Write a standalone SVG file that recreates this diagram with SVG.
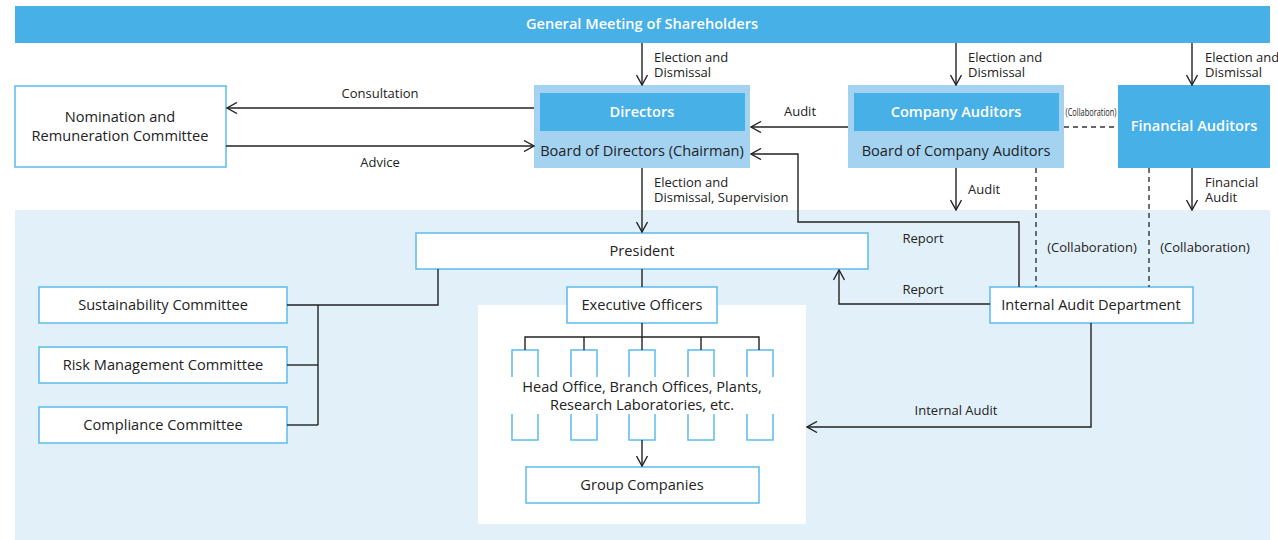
<svg xmlns="http://www.w3.org/2000/svg" width="1278" height="540" viewBox="0 0 1278 540">
  <defs>
    <marker id="arrow" viewBox="0 0 12 12" refX="11" refY="6" markerWidth="12" markerHeight="12" markerUnits="userSpaceOnUse" orient="auto">
      <path d="M1,0.5 L11,6 L1,11.5" fill="none" stroke="#222" stroke-width="1.4"/>
    </marker>
  </defs>
  <style>
    text { font-family: "Open Sans", "Noto Sans", "Liberation Sans", sans-serif; font-size: 14.6px; fill: #222; }
    .c { text-anchor: middle; }
    .w { fill: #fff; font-weight: 600; }
    .lbl { font-size: 13px; }
    .tiny { font-size: 10px; }
    .box { fill: #fff; stroke: #5bbbec; stroke-width: 1.5; }
    .dark { fill: #47b0e6; }
    .light { fill: #a4d3f1; }
    .ln { fill: none; stroke: #222; stroke-width: 1.4; }
    .arr { fill: none; stroke: #222; stroke-width: 1.4; marker-end: url(#arrow); }
    .dash { fill: none; stroke: #333; stroke-width: 1.4; stroke-dasharray: 5 4; }
  </style>

  <!-- executive area background -->
  <rect x="15" y="210" width="1255" height="330" fill="#e2f0fa"/>
  <rect x="478" y="305" width="328" height="219" fill="#fff"/>

  <!-- top bar -->
  <g id="shareholders">
    <rect x="15" y="6" width="1255" height="37" class="dark"/>
    <text x="642" y="29" class="c w">General Meeting of Shareholders</text>
  </g>

  <g id="nomination">
    <rect x="15" y="86" width="211" height="81" class="box"/>
    <text class="c"><tspan x="120" y="122">Nomination and</tspan><tspan x="120" y="141">Remuneration Committee</tspan></text>
  </g>

  <g id="directors">
    <rect x="534" y="85" width="216" height="83" class="light"/>
    <rect x="540" y="93" width="205" height="38" class="dark"/>
    <text x="642" y="117" class="c w">Directors</text>
    <text x="642" y="156" class="c">Board of Directors (Chairman)</text>
  </g>

  <g id="company-auditors">
    <rect x="848" y="85" width="216" height="83" class="light"/>
    <rect x="854" y="93" width="205" height="38" class="dark"/>
    <text x="956" y="117" class="c w">Company Auditors</text>
    <text x="956" y="156" class="c">Board of Company Auditors</text>
  </g>

  <g id="financial-auditors">
    <rect x="1118" y="85" width="152" height="83" class="dark"/>
    <text x="1194" y="131" class="c w">Financial Auditors</text>
  </g>

  <g id="president">
    <rect x="416" y="233" width="452" height="36" class="box"/>
    <text x="642" y="256" class="c">President</text>
  </g>

  <g id="internal-audit">
    <rect x="990" y="287" width="203" height="36" class="box"/>
    <text x="1091" y="310" class="c">Internal Audit Department</text>
  </g>

  <g id="executive-officers">
    <rect x="567" y="287" width="150" height="36" class="box"/>
    <text x="642" y="310" class="c">Executive Officers</text>
  </g>

  <g id="sustainability">
    <rect x="39" y="287" width="248" height="36" class="box"/>
    <text x="163" y="310" class="c">Sustainability Committee</text>
  </g>
  <g id="risk">
    <rect x="39" y="347" width="248" height="36" class="box"/>
    <text x="163" y="370" class="c">Risk Management Committee</text>
  </g>
  <g id="compliance">
    <rect x="39" y="407" width="248" height="36" class="box"/>
    <text x="163" y="430" class="c">Compliance Committee</text>
  </g>

  <g id="offices">
    <rect x="512" y="350" width="26" height="90" class="box"/>
    <rect x="571" y="350" width="26" height="90" class="box"/>
    <rect x="629" y="350" width="26" height="90" class="box"/>
    <rect x="688" y="350" width="26" height="90" class="box"/>
    <rect x="747" y="350" width="26" height="90" class="box"/>
    <rect x="505" y="377" width="275" height="37" fill="#fff"/>
    <text class="c"><tspan x="642" y="392">Head Office, Branch Offices, Plants,</tspan><tspan x="642" y="410">Research Laboratories, etc.</tspan></text>
  </g>

  <g id="group-companies">
    <rect x="526" y="467" width="233" height="36" class="box"/>
    <text x="642" y="490" class="c">Group Companies</text>
  </g>

  <g id="connectors">
    <!-- elections from the general meeting -->
    <line x1="642" y1="43" x2="642" y2="85" class="arr"/>
    <line x1="956" y1="43" x2="956" y2="85" class="arr"/>
    <line x1="1192" y1="43" x2="1192" y2="85" class="arr"/>
    <!-- nomination committee -->
    <line x1="534" y1="108" x2="227" y2="108" class="arr"/>
    <line x1="226" y1="146" x2="534" y2="146" class="arr"/>
    <!-- audit of directors -->
    <line x1="848" y1="127" x2="751" y2="127" class="arr"/>
    <line x1="1064" y1="127" x2="1118" y2="127" class="dash"/>
    <!-- downwards from the board -->
    <line x1="642" y1="168" x2="642" y2="232" class="arr"/>
    <line x1="956" y1="168" x2="956" y2="210" class="arr"/>
    <line x1="1192" y1="168" x2="1192" y2="210" class="arr"/>
    <line x1="1036" y1="168" x2="1036" y2="287" class="dash"/>
    <line x1="1149" y1="168" x2="1149" y2="287" class="dash"/>
    <!-- reports from internal audit -->
    <polyline points="1019,287 1019,222 798,222 798,154 751,154" class="arr"/>
    <polyline points="990,304 839,304 839,270" class="arr"/>
    <polyline points="1091,323 1091,427 807,427" class="arr"/>
    <!-- president to committees -->
    <polyline points="438,269 438,305 287,305" class="ln"/>
    <line x1="318" y1="305" x2="318" y2="425" class="ln"/>
    <line x1="287" y1="365" x2="318" y2="365" class="ln"/>
    <line x1="287" y1="425" x2="318" y2="425" class="ln"/>
    <!-- president to executive officers -->
    <line x1="642" y1="269" x2="642" y2="287" class="ln"/>
    <!-- executive officers to offices -->
    <line x1="642" y1="323" x2="642" y2="350" class="ln"/>
    <polyline points="525,350 525,337 759,337 759,350" class="ln"/>
    <line x1="584" y1="337" x2="584" y2="350" class="ln"/>
    <line x1="701" y1="337" x2="701" y2="350" class="ln"/>
    <line x1="642" y1="440" x2="642" y2="466" class="arr"/>
  </g>

  <g id="labels">
    <text class="lbl"><tspan x="654" y="62">Election and</tspan><tspan x="654" y="77">Dismissal</tspan></text>
    <text class="lbl"><tspan x="968" y="62">Election and</tspan><tspan x="968" y="77">Dismissal</tspan></text>
    <text class="lbl"><tspan x="1205" y="62">Election and</tspan><tspan x="1205" y="77">Dismissal</tspan></text>
    <text x="380" y="98" class="c lbl">Consultation</text>
    <text x="380" y="167" class="c lbl">Advice</text>
    <text x="800" y="116" class="c lbl">Audit</text>
    <text x="1091" y="116" class="c tiny" textLength="51" lengthAdjust="spacingAndGlyphs">(Collaboration)</text>
    <text class="lbl"><tspan x="654" y="187">Election and</tspan><tspan x="654" y="202">Dismissal, Supervision</tspan></text>
    <text x="968" y="194" class="lbl">Audit</text>
    <text class="lbl"><tspan x="1205" y="187">Financial</tspan><tspan x="1205" y="202">Audit</tspan></text>
    <text x="923" y="243" class="c lbl">Report</text>
    <text x="923" y="294" class="c lbl">Report</text>
    <text x="1092" y="252" class="c lbl">(Collaboration)</text>
    <text x="1205" y="252" class="c lbl">(Collaboration)</text>
    <text x="956" y="415" class="c lbl">Internal Audit</text>
  </g>
</svg>
